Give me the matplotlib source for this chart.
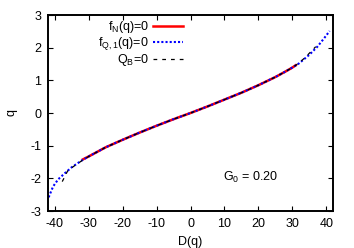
import matplotlib
matplotlib.use('Agg')
import matplotlib.pyplot as plt
from matplotlib.ticker import MultipleLocator

plt.rcParams['font.family'] = ['Liberation Sans', 'DejaVu Sans']
plt.rcParams['mathtext.fontset'] = 'custom'
plt.rcParams['mathtext.rm'] = 'Liberation Sans'
plt.rcParams['mathtext.it'] = 'Liberation Sans'
plt.rcParams['axes.unicode_minus'] = False

# f_N(q)=0 (red solid)
D_N = [-31.7, -30, -25, -20, -15, -10, -5, 0, 5, 10, 15, 20, 25, 28, 30, 31.0]
q_N = [-1.42, -1.33, -1.05, -0.82, -0.60, -0.39, -0.19, 0.0, 0.20, 0.41, 0.62, 0.85, 1.10, 1.27, 1.39, 1.46]

# f_{Q,1}(q)=0 (blue dotted)
D_Q = [-41.8, -40.5, -39, -37, -35, -32, -30, -25, -20, -15, -10, -5, 0,
       5, 10, 15, 20, 25, 28, 30, 32, 35, 37.4, 39.4, 41]
q_Q = [-2.58, -2.25, -2.03, -1.84, -1.66, -1.45, -1.33, -1.05, -0.82, -0.60, -0.39, -0.19, 0.0,
       0.20, 0.41, 0.62, 0.85, 1.10, 1.27, 1.39, 1.52, 1.78, 2.03, 2.29, 2.51]

# Q_B=0 (black dashed)
D_B = [-37.8, -36.2, -34, -32, -30, -25, -20, -15, -10, -5, 0,
       5, 10, 15, 20, 25, 28, 30, 32, 34, 36.9]
q_B = [-2.10, -1.77, -1.60, -1.46, -1.33, -1.05, -0.82, -0.60, -0.39, -0.19, 0.0,
       0.20, 0.41, 0.62, 0.85, 1.10, 1.27, 1.39, 1.53, 1.72, 2.03]

labels = ['f$_N$(q)=0', 'f$_{Q,1}$(q)=0', 'Q$_B$=0']

fig = plt.figure(figsize=(3.54, 2.48), dpi=100)
ax = fig.add_axes([48/354, 1-211/248, (333-48)/354, (211-15)/248])

ax.plot(D_N, q_N, color='#ff0000', lw=1.8, label=labels[0])
ax.plot(D_Q, q_Q, color='#0000ff', lw=1.5, ls=(0, (1, 1)), label=labels[1])
ax.plot(D_B, q_B, color='black', lw=0.9, ls=(0, (3, 4)), label=labels[2])

ax.set_xlim(-42, 42)
ax.set_ylim(-3, 3)
ax.xaxis.set_major_locator(MultipleLocator(10))
ax.yaxis.set_major_locator(MultipleLocator(1))
ax.tick_params(direction='in', top=True, right=True, length=3.5, width=0.8,
               labelsize=9, pad=5)
for s in ax.spines.values():
    s.set_linewidth(1.4)

ax.set_xlabel('D(q)', fontsize=9, labelpad=4)
ax.set_ylabel('q', fontsize=9, labelpad=9, rotation=90)

ax.text(17.6, -1.96, 'G$_0$ = 0.20', fontsize=9, ha='center', va='center')

leg = ax.legend(loc='upper right', bbox_to_anchor=(0.477, 0.985), frameon=False,
                markerfirst=False, fontsize=9, handlelength=2.4,
                handletextpad=0.3, labelspacing=0.0, borderpad=0.1,
                borderaxespad=0)
# right-align the legend entries like gnuplot does
for col in leg._legend_handle_box.get_children():
    col.align = 'right'

fig.savefig('out.png', dpi=100)
